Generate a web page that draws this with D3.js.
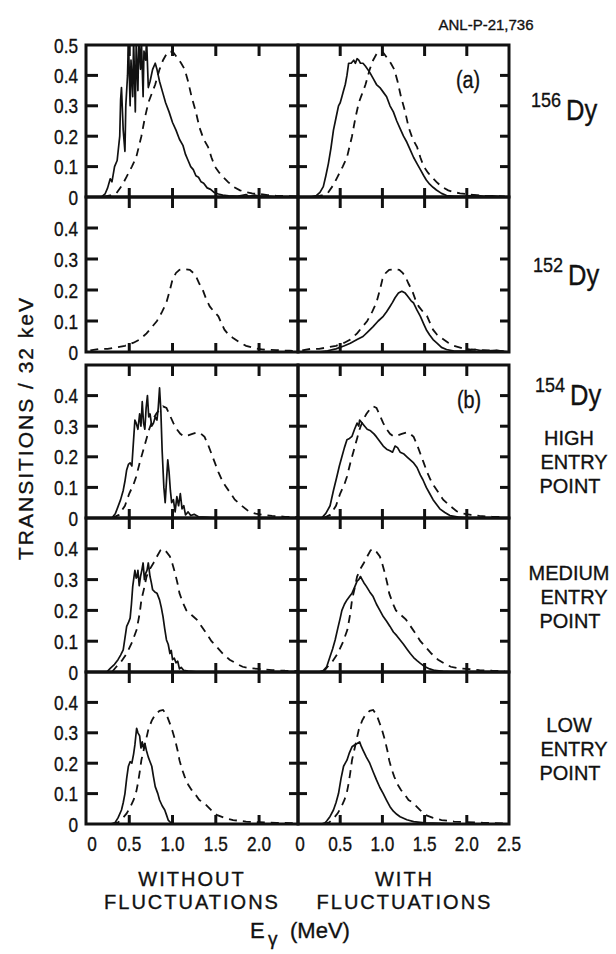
<!DOCTYPE html>
<html>
<head>
<meta charset="utf-8">
<script src="https://cdn.jsdelivr.net/npm/d3@7"></script>
<style>
  body { margin: 0; background: #fff; }
  text { font-family: "Liberation Sans", Arial, sans-serif; fill: #111; stroke: #111; stroke-width: 0.35px; }
</style>
</head>
<body>
<div id="chart"></div>
<script>
// gamma-ray spectra, transitions per 32 keV bin
// each series is [E (MeV), transitions]

// 156Dy
const dy156Dashed = [[0.20,0],[0.28,0.005],[0.35,0.012],[0.42,0.04],[0.47,0.067],[0.53,0.10],[0.58,0.13],[0.64,0.20],[0.68,0.26],[0.72,0.31],[0.76,0.34],[0.80,0.37],[0.85,0.42],[0.89,0.45],[0.93,0.47],[0.97,0.48],[1.01,0.475],[1.05,0.46],[1.10,0.44],[1.14,0.42],[1.18,0.38],[1.22,0.33],[1.27,0.28],[1.31,0.23],[1.36,0.19],[1.41,0.165],[1.45,0.13],[1.49,0.10],[1.54,0.08],[1.58,0.067],[1.64,0.05],[1.70,0.034],[1.78,0.022],[1.85,0.016],[1.92,0.012],[2.0,0.01],[2.1,0.006],[2.2,0.004],[2.3,0.003],[2.45,0.002]];
const dy156Without = [[0.18,0],[0.22,0.01],[0.25,0.03],[0.28,0.06],[0.30,0.05],[0.33,0.10],[0.36,0.12],[0.39,0.20],[0.40,0.32],[0.41,0.36],[0.43,0.22],[0.45,0.15],[0.46,0.30],[0.48,0.40],[0.49,0.52],[0.51,0.30],[0.52,0.45],[0.54,0.33],[0.55,0.52],[0.57,0.28],[0.58,0.50],[0.60,0.35],[0.61,0.52],[0.63,0.42],[0.64,0.52],[0.66,0.33],[0.67,0.48],[0.69,0.45],[0.70,0.52],[0.72,0.36],[0.74,0.38],[0.77,0.42],[0.80,0.44],[0.82,0.42],[0.85,0.38],[0.89,0.34],[0.92,0.31],[0.96,0.28],[1.00,0.245],[1.04,0.22],[1.08,0.19],[1.12,0.17],[1.15,0.14],[1.18,0.12],[1.21,0.10],[1.24,0.09],[1.27,0.07],[1.30,0.065],[1.33,0.05],[1.36,0.045],[1.40,0.03],[1.44,0.025],[1.48,0.015],[1.53,0.01],[1.58,0.006],[1.65,0.004],[1.75,0.002],[1.85,0.008],[1.88,0.002],[1.95,0.006],[2.0,0.002],[2.1,0.003],[2.2,0]];
const dy156With = [[0.15,0],[0.22,0.005],[0.26,0.015],[0.30,0.034],[0.33,0.07],[0.36,0.11],[0.39,0.16],[0.42,0.22],[0.45,0.26],[0.48,0.30],[0.50,0.31],[0.52,0.33],[0.54,0.35],[0.56,0.37],[0.58,0.40],[0.60,0.44],[0.63,0.44],[0.66,0.45],[0.68,0.44],[0.70,0.455],[0.72,0.45],[0.74,0.44],[0.77,0.44],[0.80,0.43],[0.85,0.41],[0.89,0.39],[0.93,0.37],[0.97,0.36],[1.01,0.345],[1.05,0.33],[1.09,0.30],[1.13,0.28],[1.17,0.25],[1.21,0.225],[1.25,0.20],[1.29,0.18],[1.33,0.155],[1.37,0.13],[1.41,0.11],[1.45,0.09],[1.49,0.07],[1.52,0.056],[1.56,0.042],[1.60,0.032],[1.64,0.023],[1.70,0.012],[1.76,0.005],[1.85,0.002],[2.0,0.003],[2.1,0.006],[2.2,0.002],[2.3,0.004],[2.45,0]];

// 152Dy (no solid curve without fluctuations)
const dy152Dashed = [[0.05,0.005],[0.15,0.01],[0.25,0.01],[0.35,0.015],[0.45,0.02],[0.55,0.03],[0.62,0.04],[0.70,0.06],[0.76,0.08],[0.82,0.10],[0.88,0.13],[0.93,0.16],[0.97,0.20],[1.00,0.234],[1.04,0.255],[1.08,0.265],[1.14,0.267],[1.20,0.265],[1.24,0.255],[1.27,0.245],[1.31,0.22],[1.35,0.20],[1.39,0.17],[1.43,0.147],[1.48,0.13],[1.53,0.115],[1.57,0.09],[1.60,0.072],[1.65,0.055],[1.70,0.045],[1.78,0.03],[1.85,0.02],[1.95,0.012],[2.05,0.008],[2.2,0.006],[2.35,0.004],[2.45,0.003]];
const dy152Without = [];
const dy152With = [[0.25,0],[0.35,0.004],[0.45,0.01],[0.55,0.02],[0.62,0.028],[0.70,0.04],[0.77,0.05],[0.83,0.066],[0.89,0.082],[0.95,0.10],[1.01,0.115],[1.05,0.13],[1.09,0.147],[1.12,0.16],[1.15,0.175],[1.19,0.19],[1.23,0.196],[1.27,0.19],[1.30,0.18],[1.34,0.165],[1.37,0.158],[1.41,0.135],[1.45,0.115],[1.49,0.09],[1.52,0.072],[1.56,0.055],[1.60,0.04],[1.65,0.028],[1.70,0.015],[1.76,0.008],[1.85,0.003],[2.0,0.004],[2.1,0.008],[2.2,0.003],[2.35,0.005],[2.5,0]];

// 154Dy high entry point
const highDashed = [[0.30,0],[0.38,0.01],[0.45,0.04],[0.50,0.08],[0.55,0.11],[0.58,0.135],[0.62,0.18],[0.66,0.22],[0.70,0.26],[0.73,0.29],[0.77,0.32],[0.81,0.34],[0.85,0.355],[0.89,0.365],[0.93,0.36],[0.97,0.335],[1.01,0.31],[1.05,0.29],[1.09,0.275],[1.13,0.267],[1.18,0.27],[1.23,0.275],[1.29,0.28],[1.33,0.275],[1.37,0.265],[1.41,0.24],[1.45,0.21],[1.49,0.18],[1.53,0.15],[1.57,0.125],[1.61,0.105],[1.66,0.085],[1.72,0.06],[1.80,0.04],[1.88,0.022],[1.96,0.014],[2.05,0.01],[2.15,0.007],[2.3,0.004],[2.45,0.003]];
const highWithout = [[0.30,0],[0.34,0.015],[0.37,0.037],[0.40,0.06],[0.43,0.09],[0.45,0.12],[0.47,0.157],[0.49,0.175],[0.51,0.18],[0.53,0.17],[0.55,0.256],[0.565,0.32],[0.58,0.31],[0.60,0.29],[0.62,0.34],[0.635,0.30],[0.65,0.38],[0.665,0.31],[0.68,0.29],[0.695,0.36],[0.71,0.40],[0.725,0.33],[0.74,0.34],[0.76,0.30],[0.78,0.31],[0.80,0.33],[0.82,0.32],[0.835,0.36],[0.85,0.425],[0.865,0.35],[0.88,0.22],[0.90,0.10],[0.915,0.05],[0.93,0.12],[0.945,0.19],[0.96,0.15],[0.975,0.09],[0.99,0.05],[1.01,0.06],[1.03,0.02],[1.05,0.07],[1.07,0.04],[1.09,0.08],[1.11,0.03],[1.13,0.04],[1.15,0.01],[1.18,0.02],[1.21,0.008],[1.25,0.012],[1.30,0.004],[1.40,0.002],[1.5,0]];
const highWith = [[0.28,0],[0.33,0.015],[0.38,0.04],[0.42,0.09],[0.46,0.135],[0.49,0.17],[0.52,0.20],[0.55,0.23],[0.58,0.256],[0.61,0.26],[0.64,0.267],[0.67,0.29],[0.70,0.31],[0.72,0.30],[0.73,0.32],[0.76,0.31],[0.79,0.30],[0.82,0.29],[0.86,0.285],[0.90,0.275],[0.93,0.265],[0.97,0.25],[1.01,0.235],[1.05,0.225],[1.09,0.22],[1.12,0.215],[1.15,0.235],[1.18,0.23],[1.21,0.215],[1.25,0.21],[1.29,0.20],[1.33,0.19],[1.37,0.18],[1.41,0.165],[1.45,0.14],[1.48,0.125],[1.52,0.10],[1.56,0.08],[1.60,0.06],[1.64,0.045],[1.68,0.03],[1.74,0.018],[1.80,0.008],[1.9,0.003],[2.0,0]];

// 154Dy medium entry point
const mediumDashed = [[0.30,0],[0.35,0.017],[0.41,0.035],[0.47,0.06],[0.53,0.095],[0.585,0.137],[0.62,0.19],[0.64,0.234],[0.67,0.27],[0.70,0.31],[0.74,0.335],[0.78,0.354],[0.82,0.375],[0.86,0.395],[0.89,0.40],[0.93,0.39],[0.97,0.375],[1.00,0.35],[1.03,0.32],[1.06,0.285],[1.08,0.256],[1.12,0.225],[1.16,0.20],[1.22,0.185],[1.28,0.17],[1.33,0.15],[1.39,0.126],[1.45,0.10],[1.51,0.082],[1.58,0.06],[1.66,0.04],[1.74,0.027],[1.81,0.017],[1.90,0.012],[2.0,0.01],[2.15,0.006],[2.3,0.004],[2.45,0.003]];
const mediumWithout = [[0.24,0],[0.28,0.012],[0.33,0.025],[0.37,0.04],[0.40,0.055],[0.43,0.072],[0.45,0.11],[0.47,0.148],[0.49,0.16],[0.51,0.175],[0.525,0.22],[0.54,0.278],[0.555,0.31],[0.565,0.33],[0.58,0.305],[0.59,0.31],[0.60,0.33],[0.615,0.28],[0.63,0.31],[0.645,0.33],[0.66,0.354],[0.675,0.30],[0.69,0.32],[0.705,0.33],[0.72,0.354],[0.74,0.31],[0.755,0.29],[0.77,0.267],[0.795,0.26],[0.82,0.256],[0.85,0.234],[0.87,0.21],[0.89,0.18],[0.91,0.14],[0.93,0.104],[0.95,0.09],[0.97,0.06],[0.985,0.07],[1.00,0.04],[1.02,0.045],[1.04,0.03],[1.06,0.035],[1.08,0.01],[1.10,0.015],[1.13,0.005],[1.18,0.003],[1.3,0]];
const mediumWith = [[0.25,0],[0.30,0.005],[0.34,0.017],[0.38,0.05],[0.41,0.075],[0.44,0.104],[0.47,0.14],[0.50,0.175],[0.52,0.20],[0.55,0.22],[0.58,0.234],[0.61,0.245],[0.64,0.256],[0.67,0.275],[0.70,0.295],[0.72,0.30],[0.74,0.31],[0.76,0.30],[0.78,0.29],[0.81,0.278],[0.85,0.26],[0.89,0.245],[0.93,0.22],[0.97,0.20],[1.01,0.18],[1.05,0.165],[1.09,0.148],[1.13,0.13],[1.17,0.118],[1.21,0.104],[1.25,0.09],[1.29,0.075],[1.33,0.06],[1.37,0.047],[1.41,0.037],[1.45,0.028],[1.50,0.018],[1.56,0.01],[1.62,0.005],[1.72,0.002],[1.85,0]];

// 154Dy low entry point
const lowDashed = [[0.30,0],[0.37,0.005],[0.42,0.018],[0.47,0.035],[0.51,0.055],[0.55,0.079],[0.58,0.105],[0.60,0.134],[0.62,0.17],[0.64,0.21],[0.68,0.26],[0.72,0.31],[0.76,0.34],[0.80,0.36],[0.85,0.372],[0.89,0.375],[0.93,0.36],[0.97,0.33],[1.00,0.305],[1.03,0.276],[1.06,0.24],[1.08,0.21],[1.11,0.18],[1.14,0.156],[1.18,0.13],[1.22,0.112],[1.27,0.095],[1.31,0.079],[1.35,0.072],[1.39,0.062],[1.45,0.045],[1.51,0.03],[1.60,0.02],[1.70,0.013],[1.85,0.008],[2.0,0.006],[2.2,0.004],[2.45,0.002]];
const lowWithout = [[0.28,0],[0.335,0.004],[0.37,0.02],[0.41,0.046],[0.43,0.07],[0.45,0.10],[0.47,0.15],[0.49,0.19],[0.51,0.205],[0.53,0.20],[0.55,0.23],[0.565,0.26],[0.585,0.315],[0.60,0.30],[0.62,0.29],[0.635,0.25],[0.65,0.27],[0.665,0.25],[0.68,0.265],[0.70,0.24],[0.72,0.22],[0.74,0.205],[0.76,0.19],[0.78,0.155],[0.80,0.123],[0.83,0.10],[0.85,0.079],[0.88,0.06],[0.91,0.046],[0.93,0.03],[0.95,0.013],[0.98,0.004],[1.02,0]];
const lowWith = [[0.28,0],[0.32,0.004],[0.34,0.01],[0.38,0.025],[0.42,0.046],[0.45,0.07],[0.48,0.10],[0.51,0.15],[0.54,0.19],[0.56,0.20],[0.58,0.21],[0.61,0.235],[0.64,0.254],[0.67,0.26],[0.70,0.265],[0.73,0.27],[0.75,0.255],[0.77,0.243],[0.81,0.22],[0.85,0.20],[0.89,0.172],[0.93,0.145],[0.97,0.12],[1.01,0.10],[1.05,0.078],[1.09,0.057],[1.13,0.042],[1.17,0.032],[1.21,0.024],[1.29,0.014],[1.37,0.008],[1.5,0.004],[1.7,0.002],[2.0,0]];

const yTickValues = [0.1, 0.2, 0.3, 0.4];
const yTickLabels = ["0", "0.1", "0.2", "0.3", "0.4", "0.5"];
const xTickValues = [0.5, 1.0, 1.5, 2.0];
const xTickLabelsLeft = ["0", "0.5", "1.0", "1.5", "2.0"];
const xTickLabelsRight = ["0", "0.5", "1.0", "1.5", "2.0", "2.5"];
const isotopes = ["156", "152", "154"];
const entryPoints = ["HIGH", "MEDIUM", "LOW"];

// layout of the grid
const width = 616, height = 954;
const colX = [[86, 298], [298, 509]];
const rowY = [[45, 197], [197, 352], [365, 518], [518, 672], [672, 824]];
const rows = [
  {dashed: dy156Dashed, without: dy156Without, with: dy156With, top: true},
  {dashed: dy152Dashed, without: dy152Without, with: dy152With},
  {dashed: highDashed, without: highWithout, with: highWith},
  {dashed: mediumDashed, without: mediumWithout, with: mediumWith},
  {dashed: lowDashed, without: lowWithout, with: lowWith}
];

const ink = "#111";
const svg = d3.select("#chart").append("svg")
    .attr("width", width)
    .attr("height", height);
svg.append("rect").attr("width", width).attr("height", height).attr("fill", "#fff");

// narrow helvetica-like text
function label(g, x, y, s, size, anchor, sx) {
    return g.append("text")
        .attr("transform", `translate(${x},${y}) scale(${sx || 0.84},1)`)
        .attr("text-anchor", anchor || "middle")
        .attr("font-size", size)
        .text(s);
}

let defs = svg.append("defs");
const xScales = [
    d3.scaleLinear().domain([0, 2.45]).range(colX[0]),
    d3.scaleLinear().domain([0, 2.5]).range(colX[1])
];

rows.forEach((row, r) => {
    let y = d3.scaleLinear().domain([0, 0.5]).range([rowY[r][1], rowY[r][0]]);
    [0, 1].forEach(c => {
        let x = xScales[c];
        let id = `clip${r}${c}`;
        defs.append("clipPath").attr("id", id).append("rect")
            .attr("x", colX[c][0]).attr("y", rowY[r][0])
            .attr("width", colX[c][1] - colX[c][0]).attr("height", rowY[r][1] - rowY[r][0]);

        let g = svg.append("g");
        let line = d3.line().x(d => x(d[0])).y(d => y(d[1]));
        let curves = g.append("g").attr("clip-path", `url(#${id})`);
        curves.append("path").datum(row.dashed)
            .attr("d", line).attr("fill", "none").attr("stroke", ink)
            .attr("stroke-width", 1.8).attr("stroke-dasharray", "8,6");
        let solid = c === 0 ? row.without : row.with;
        if (solid.length) {
            curves.append("path").datum(solid)
                .attr("d", line).attr("fill", "none").attr("stroke", ink)
                .attr("stroke-width", 1.7).attr("stroke-linejoin", "round");
        }

        // frame
        g.append("rect")
            .attr("x", colX[c][0]).attr("y", rowY[r][0])
            .attr("width", colX[c][1] - colX[c][0]).attr("height", rowY[r][1] - rowY[r][0])
            .attr("fill", "none").attr("stroke", ink).attr("stroke-width", 3);

        // inward ticks, bottom and top
        let tl = 9;
        g.selectAll(".xb").data(xTickValues).enter().append("line")
            .attr("x1", d => x(d)).attr("x2", d => x(d))
            .attr("y1", rowY[r][1]).attr("y2", rowY[r][1] - tl)
            .attr("stroke", ink).attr("stroke-width", 3);
        g.selectAll(".xt").data(xTickValues).enter().append("line")
            .attr("x1", d => x(d)).attr("x2", d => x(d))
            .attr("y1", rowY[r][0]).attr("y2", rowY[r][0] + tl + 2)
            .attr("stroke", ink).attr("stroke-width", 3);
        // inward ticks, left and right
        g.selectAll(".yl").data(yTickValues).enter().append("line")
            .attr("x1", colX[c][0]).attr("x2", colX[c][0] + tl + (c === 0 ? 3 : 0))
            .attr("y1", d => y(d)).attr("y2", d => y(d))
            .attr("stroke", ink).attr("stroke-width", 3);
        g.selectAll(".yr").data(yTickValues).enter().append("line")
            .attr("x1", colX[c][1]).attr("x2", colX[c][1] - tl)
            .attr("y1", d => y(d)).attr("y2", d => y(d))
            .attr("stroke", ink).attr("stroke-width", 3);
    });

    // y tick labels on the left column
    let labs = row.top ? yTickLabels : yTickLabels.slice(0, 5);
    labs.forEach((s, i) => {
        label(svg, colX[0][0] - 8, y(i / 10) + 7.5, s, 21, "end", 0.82);
    });
});

// x tick labels under the bottom row
const yLab = rowY[4][1] + 27;
xTickLabelsLeft.forEach((s, i) => {
    label(svg, xScales[0](i * 0.5) + (i === 0 ? 6 : 0), yLab, s, 21, "middle", 0.82);
});
xTickLabelsRight.forEach((s, i) => {
    label(svg, xScales[1](i * 0.5) + (i === 0 ? 2 : 0), yLab, s, 21, "middle", 0.82);
});

// column titles and axis title
const midL = (colX[0][0] + colX[0][1]) / 2, midR = (colX[1][0] + colX[1][1]) / 2 + 1;
[[midL, "WITHOUT"], [midR, "WITH"]].forEach(d => {
    label(svg, d[0], 886, d[1], 20, "middle", 1).attr("letter-spacing", 2);
    label(svg, d[0], 909, "FLUCTUATIONS", 20, "middle", 1).attr("letter-spacing", 2);
});

let eg = svg.append("g").attr("transform", "translate(250,938)");
eg.append("text").attr("font-size", 22).text("E");
eg.append("text").attr("x", 18).attr("y", 7).attr("font-size", 19).text("γ");
eg.append("text").attr("x", 40).attr("font-size", 22).text("(MeV)");

svg.append("text")
    .attr("transform", "translate(33,428) rotate(-90)")
    .attr("text-anchor", "middle").attr("font-size", 21)
    .attr("letter-spacing", 2)
    .text("TRANSITIONS / 32 keV");

label(svg, 486, 30, "ANL-P-21,736", 15, "middle", 1);
label(svg, 468, rowY[0][0] + 43, "(a)", 23, "middle", 0.86);
label(svg, 469, rowY[2][0] + 43, "(b)", 23, "middle", 0.86);

// isotope labels
[[531, 120], [533, 285], [535, 405]].forEach((p, i) => {
    label(svg, p[0], p[1] - 13, isotopes[i], 21, "start", 0.86);
    label(svg, p[0] + 35, p[1], "Dy", 29, "start", 0.88);
});

[445, 580, 732].forEach((y0, i) => {
    label(svg, 569, y0, entryPoints[i], 21, "middle", 0.95);
    label(svg, 574, y0 + 24, "ENTRY", 21, "middle", 0.95);
    label(svg, 570, y0 + 48, "POINT", 21, "middle", 0.95);
});
</script>
</body>
</html>
